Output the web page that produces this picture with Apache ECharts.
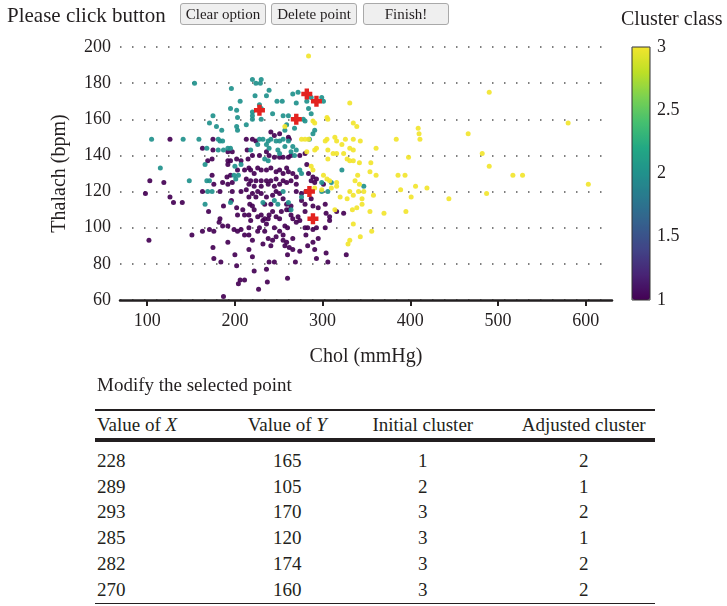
<!DOCTYPE html>
<html>
<head>
<meta charset="utf-8">
<script src="https://cdn.jsdelivr.net/npm/echarts@6/dist/echarts.min.js"></script>
<style>
  body { margin: 0; background: #fff; font-family: 'Liberation Serif', serif; color: #231f20; }
  #wrap { position: relative; width: 727px; height: 606px; overflow: hidden; }
  #chart { position: absolute; left: 0; top: 0; width: 727px; height: 375px; }
  .lbl { position: absolute; white-space: nowrap; }
  .btn { position: absolute; top: 3px; height: 22px; width: 86px; box-sizing: border-box;
         background: #efefef; border: 1px solid #a9a9a9; border-radius: 3px;
         font: 15px 'Liberation Serif', serif; color: #231f20; padding: 0; }
  .rule { position: absolute; left: 95px; width: 560px; height: 0; z-index: 5; }
  #tbl { position: absolute; left: 95px; top: 411px; width: 560px; border-collapse: separate; border-spacing: 0;
         font: 19px 'Liberation Serif', serif; color: #231f20; z-index: 1; }
  #tbl th { font-weight: normal; height: 27px; padding: 0; border-bottom: 2px solid #231f20; }
  #tbl td { height: 25.8px; padding: 0; }
  #tbl tbody tr:first-child td { padding-top: 8px; }
  .c1 { text-align: left; width: 145px; padding-left: 2px !important; }
  .c2 { text-align: center; width: 92px; }
  .c3 { text-align: center; width: 180px; }
  .c4 { text-align: center; width: 143px; }
</style>
</head>
<body>
<div id="wrap">
  <div id="chart"></div>
  <div class="lbl" style="left:7px; top:3px; font-size:21px;">Please click button</div>
  <button class="btn" style="left:180px;">Clear option</button>
  <button class="btn" style="left:271px;">Delete point</button>
  <button class="btn" style="left:363px;">Finish!</button>
  <div class="lbl" style="left:97px; top:374px; font-size:19px;">Modify the selected point</div>
  <table id="tbl">
    <thead><tr>
      <th class="c1">Value of <i>X</i></th>
      <th class="c2">Value of <i>Y</i></th>
      <th class="c3">Initial cluster</th>
      <th class="c4">Adjusted cluster</th>
    </tr></thead>
    <tbody id="tbody"></tbody>
  </table>
  <div class="rule" style="top:409px; border-top:2px solid #231f20;"></div>
  <div class="rule" style="top:440px; border-top:2px solid #231f20;"></div>
  <div class="rule" style="top:603px; border-top:1px solid #231f20;"></div>
</div>
<script>
// chol / thalach points, one list per cluster
var cluster1 = [
  [216,117],[220,119],[224,117],[226,120],[230,119],[217,113],[220,112],[222,110],[216,107],[218,104],
  [226,106],[230,107],[234,105],[238,105],[239,107],[232,104],[236,102],[243,109],[247,106],[251,105],
  [253,109],[259,110],[262,110],[264,107],[266,105],[270,103],[272,106],[274,104],[280,109],[264,112],
  [259,113],[255,116],[251,119],[247,120],[243,118],[236,117],[234,113],[241,113],[257,101],[260,100],
  [251,98],[255,96],[245,100],[247,95],[243,93],[238,94],[234,98],[226,98],[228,100],[216,100],
  [216,96],[220,93],[232,91],[241,90],[255,93],[259,92],[257,90],[262,89],[266,88],[274,87],
  [283,90],[291,88],[293,83],[304,86],[295,94],[293,100],[283,100],[289,99],[303,100],[308,104],
  [308,106],[304,108],[295,111],[303,113],[316,109],[324,108],[289,112],[287,116],[280,113],[281,120],
  [276,119],[270,120],[276,115],[306,81],[327,85],[269,81],[245,81],[239,81],[220,84],[216,88],
  [222,76],[236,77],[260,72],[237,70],[227,66],[260,85],[266,94],[280,100],[281,96],[289,92],[272,59],
  [98,119],[126,117],[130,114],[140,114],[163,120],[183,120],[170,109],[187,112],[196,115],[197,120],
  [207,120],[213,121],[202,111],[209,110],[203,107],[211,107],[182,103],[183,105],[186,101],[192,101],
  [199,99],[203,98],[207,99],[211,96],[102,93],[151,96],[163,98],[171,99],[176,98],[175,89],
  [192,92],[176,83],[184,81],[200,85],[202,79],[206,71],[211,71],[204,69],[187,62],
  [213,149],[126,149],[175,149],[163,144],[175,143],[192,142],[197,142],[169,137],[174,138],[192,137],
  [195,137],[192,135],[202,138],[207,137],[214,143],[215,138],[203,132],[211,132],[216,133],[195,129],
  [191,128],[197,125],[192,124],[186,125],[174,129],[176,124],[103,126],[119,125],
  [241,153],[245,151],[251,152],[261,150],[262,149],[220,149],[224,148],[220,140],[228,140],[236,142],
  [239,140],[245,139],[251,139],[255,139],[261,139],[264,140],[274,140],[280,141],[282,135],[218,132],
  [222,130],[226,133],[230,132],[236,132],[241,133],[247,131],[251,132],[255,130],[259,133],[261,131],
  [266,130],[270,128],[284,130],[289,128],[293,127],[213,127],[218,126],[224,126],[230,126],[236,126],
  [241,126],[247,127],[255,126],[259,125],[264,126],[270,124],[287,126],[291,125],[216,124],[222,123],
  [230,123],[238,124],[245,123],[251,124],[301,124]
];
var cluster2 = [
  [154,180],[196,177],[206,170],[195,166],[202,165],[203,161],[175,162],[171,158],[179,156],[202,156],
  [203,154],[185,154],[213,157],[105,149],[141,149],[159,149],[181,149],[183,148],[186,148],[168,144],
  [181,143],[187,143],[192,144],[195,144],[166,135],[200,134],[207,135],[199,129],[204,129],[201,127],
  [168,126],[171,126],[115,133],[148,126],
  [220,182],[224,180],[229,180],[230,182],[223,173],[236,173],[239,176],[228,168],[230,166],[220,164],
  [220,162],[220,160],[230,160],[248,170],[254,170],[266,174],[272,175],[282,170],[287,172],[299,172],
  [301,170],[270,169],[243,163],[255,162],[261,162],[284,166],[287,163],[278,160],[280,159],[268,155],
  [259,157],[257,154],[291,154],[289,152],[285,149],[228,149],[232,149],[238,148],[241,149],[247,148],
  [251,148],[255,149],[261,148],[257,145],[266,145],[264,142],[270,143],[249,143],[251,141],[236,146],
  [239,144],[218,143],[226,146],[234,138],[238,137],[268,140],[274,132],[276,130],[322,132],[299,125],
  [169,120],[174,120],[166,113],[195,114],[232,114],[245,115],[255,120],[261,114],[276,117],[249,113],
  [264,110],[306,120],[310,125],[347,123],[299,120]
];
var cluster3 = [
  [284,195],
  [257,156],[289,159],[291,158],[305,161],[306,160],[331,169],[335,158],[339,156],[276,149],[280,149],
  [284,149],[305,149],[303,148],[314,150],[316,148],[322,146],[326,149],[335,149],[343,148],[293,144],
  [291,143],[282,142],[306,143],[312,141],[316,141],[324,141],[331,144],[335,143],[328,138],[331,137],
  [335,137],[306,138],[287,134],[289,132],[301,129],[305,127],[308,126],[316,125],[337,126],
  [291,122],[299,121],[310,122],[316,123],[320,117],[328,116],[331,120],[335,118],[341,120],[345,116],
  [347,120],[314,110],[334,110],[339,111],[345,113],[335,102],[343,95],[331,93],[329,91],
  [490,175],[580,158],[409,155],[410,152],[466,152],[384,149],[411,149],[361,144],[398,139],[482,141],
  [490,134],[355,136],[354,131],[361,129],[386,129],[394,129],[517,129],[528,129],[603,124],[406,123],
  [419,122],[389,121],[358,118],[401,117],[487,119],[444,116],[354,109],[370,108],[395,109],[356,98],
  [342,136],[342,124],[340,129]
];

// selected points (table below the chart)
var selX = [228, 289, 293, 285, 282, 270];
var selY = [165, 105, 170, 120, 174, 160];
var initCluster = [1, 2, 3, 3, 3, 3];
var adjCluster = [2, 1, 2, 1, 2, 2];

var xTicks = [100, 200, 300, 400, 500, 600];
var viridis = ['#440154', '#482475', '#414487', '#355f8d', '#2a788e', '#21918c', '#22a884', '#44bf70', '#7ad151', '#bddf26', '#f2e52e'];

function fillTable() {
    var rows = '';
    for (var i = 0; i < selX.length; i++) {
        rows += '<tr><td class="c1">' + selX[i] + '</td><td class="c2">' + selY[i] +
            '</td><td class="c3">' + initCluster[i] + '</td><td class="c4">' + adjCluster[i] + '</td></tr>';
    }
    document.getElementById('tbody').innerHTML = rows;
}
fillTable();

var points = [];
[cluster1, cluster2, cluster3].forEach(function (list, k) {
    list.forEach(function (p) { points.push([p[0], p[1], k + 1]); });
});
var selected = selX.map(function (x, i) { return [x, selY[i]]; });

var fontFam = "'Liberation Serif', serif";
var ink = '#231f20';

var dom = document.getElementById('chart');
var myChart = echarts.init(dom);
var option = {
    animation: false,
    textStyle: { fontFamily: fontFam, color: ink },
    title: {
        text: 'Cluster class',
        left: 621,
        top: 10,
        padding: 0,
        textStyle: { fontSize: 20, fontWeight: 'normal', color: ink, fontFamily: fontFam }
    },
    grid: [
        { left: 120, top: 47, width: 492, height: 253 },
        { left: 632, top: 47, width: 18, height: 253, show: true, borderColor: '#333', borderWidth: 1, backgroundColor: 'transparent', z: 10 }
    ],
    xAxis: [
        {
            type: 'value', gridIndex: 0, min: 69, max: 630,
            name: 'Chol (mmHg)', nameLocation: 'middle', nameGap: 47,
            nameTextStyle: { fontSize: 20, color: ink, fontFamily: fontFam },
            axisLine: { lineStyle: { color: ink, width: 2.5 } },
            axisTick: { customValues: xTicks, length: 6, lineStyle: { color: ink, width: 2 } },
            axisLabel: { customValues: xTicks, fontSize: 18, margin: 12, color: ink, fontFamily: fontFam },
            splitLine: { show: false }
        },
        { type: 'value', gridIndex: 1, min: 0, max: 1, show: false }
    ],
    yAxis: [
        {
            type: 'value', gridIndex: 0, min: 60, max: 200, interval: 20,
            name: 'Thalach (bpm)', nameLocation: 'middle', nameGap: 50, nameRotate: 90,
            nameTextStyle: { fontSize: 20, color: ink, fontFamily: fontFam },
            axisLine: { show: false },
            axisTick: { show: false },
            axisLabel: { fontSize: 18, margin: 9, color: ink, fontFamily: fontFam },
            splitLine: { lineStyle: { type: [1.5, 10.5], color: '#555', width: 1.5 } }
        },
        {
            type: 'value', gridIndex: 1, position: 'right', min: 1, max: 3, interval: 0.5,
            axisLine: { show: false },
            axisTick: { show: false },
            splitLine: { show: false },
            axisLabel: { fontSize: 18, margin: 7, color: ink, fontFamily: fontFam }
        }
    ],
    visualMap: {
        type: 'continuous',
        min: 1, max: 3,
        dimension: 2,
        seriesIndex: 0,
        left: 632, top: 47,
        itemWidth: 18, itemHeight: 253,
        padding: 0,
        calculable: false,
        hoverLink: false,
        inRange: { color: viridis }
    },
    series: [
        {
            type: 'scatter',
            xAxisIndex: 0, yAxisIndex: 0,
            data: points,
            symbolSize: 5,
            itemStyle: { opacity: 0.92 }
        },
        {
            type: 'scatter',
            xAxisIndex: 0, yAxisIndex: 0,
            data: selected,
            symbol: 'path://M3,0H7V3H10V7H7V10H3V7H0V3H3Z',
            symbolSize: 11,
            itemStyle: { color: '#e3231f', opacity: 1 },
            z: 5
        }
    ]
};
myChart.setOption(option);
</script>
</body>
</html>
